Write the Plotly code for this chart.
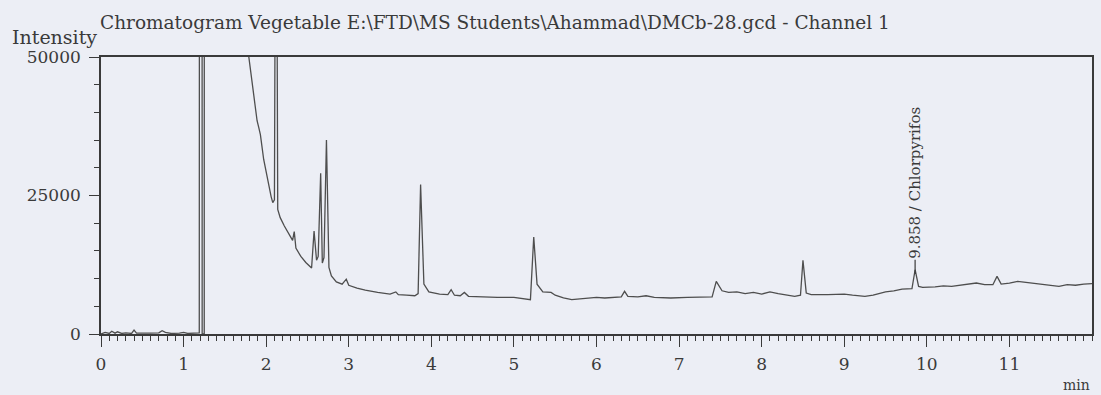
import plotly.graph_objects as go

# Retention time (min) and detector intensity
rt = [0.00, 0.05, 0.10, 0.13, 0.17, 0.20, 0.25, 0.30, 0.37, 0.40, 0.43, 0.50, 0.60, 0.70,
      0.74, 0.78, 0.85, 0.95, 1.00, 1.05, 1.10, 1.15, 1.19, 1.20, 1.22, 1.225,
      1.25, 1.255, 1.275, 1.28, 1.45, 1.60, 1.70, 1.79, 1.85, 1.89, 1.91, 1.93,
      1.97, 2.02, 2.06, 2.08, 2.10, 2.115, 2.125, 2.14, 2.17, 2.22, 2.28, 2.32, 2.34, 2.36,
      2.42, 2.48, 2.55, 2.58, 2.61, 2.63, 2.66, 2.68, 2.70, 2.73, 2.76, 2.79, 2.85, 2.92,
      2.97, 3.00, 3.10, 3.20, 3.35, 3.50, 3.57, 3.60, 3.70, 3.80, 3.84, 3.87, 3.91, 3.97,
      4.10, 4.20, 4.24, 4.28, 4.35, 4.40, 4.45, 4.60, 4.80, 5.00, 5.15, 5.20, 5.24, 5.28,
      5.35, 5.45, 5.50, 5.60, 5.70, 5.90, 6.00, 6.10, 6.30, 6.34, 6.38, 6.50, 6.60, 6.70,
      6.90, 7.10, 7.30, 7.40, 7.45, 7.52, 7.60, 7.70, 7.80, 7.90, 8.00, 8.10, 8.20, 8.30,
      8.40, 8.47, 8.50, 8.54, 8.60, 8.80, 9.00, 9.10, 9.25, 9.35, 9.50, 9.60, 9.70, 9.82,
      9.858, 9.90, 9.95, 10.10, 10.20, 10.30, 10.50, 10.60, 10.70, 10.80, 10.85, 10.90,
      11.00, 11.10, 11.20, 11.35, 11.50, 11.60, 11.70, 11.80, 11.90, 12.00]
intensity = [0, 300, 100, 500, 150, 400, 100, 200, 100, 700, 150, 100, 150, 200,
             600, 300, 100, 150, 300, 100, 150, 100, 200, 400000, 400000, 0,
             0, 400000, 400000, 400000, 300000, 90000, 66000, 50000, 42500, 38500, 37300, 36000,
             31500, 27500, 24800, 23700, 24200, 90000, 90000, 22500, 21000, 19500, 17800, 16900, 18500, 15500,
             14000, 12900, 11900, 18600, 13300, 14000, 29000, 12800, 13800, 35000, 12000, 10500, 9400, 9000,
             9900, 8800, 8300, 7900, 7500, 7200, 7600, 7100, 7000, 6900, 7300, 27000, 9000, 7600,
             7200, 7100, 8000, 7000, 6900, 7500, 6800, 6700, 6600, 6600, 6300, 6200, 17500, 9000,
             7600, 7500, 7000, 6500, 6200, 6400, 6600, 6500, 6700, 7700, 6800, 6700, 6900, 6600,
             6500, 6600, 6700, 6700, 9500, 7800, 7500, 7600, 7300, 7500, 7200, 7600, 7300, 7000,
             6800, 7000, 13300, 7400, 7100, 7100, 7200, 7000, 6800, 7000, 7600, 7800, 8100, 8200,
             11600, 8600, 8400, 8500, 8700, 8600, 9000, 9200, 8900, 8900, 10400, 9000,
             9200, 9500, 9300, 9000, 8800, 8600, 8900, 8800, 9000, 9100]

x_ticks = [0, 1, 2, 3, 4, 5, 6, 7, 8, 9, 10, 11]
y_ticks = [0, 25000, 50000]
y_tick_text = ["0", "25000", "50000"]

title_text = "Chromatogram Vegetable E:\\FTD\\MS Students\\Ahammad\\DMCb-28.gcd - Channel 1"
peak_label = "9.858 / Chlorpyrifos"
peak_rt = 9.858
peak_int = 11600

FONT = "DejaVu Serif"
INK = "#3a3a3a"
BG = "#eceef5"

fig = go.Figure()
fig.add_trace(go.Scatter(x=rt, y=intensity, mode="lines",
                         line=dict(color="#4e4e4e", width=1.3), showlegend=False,
                         hoverinfo="skip"))

fig.update_layout(
    width=1101, height=395,
    margin=dict(l=101, r=7, t=57, b=61),
    paper_bgcolor=BG, plot_bgcolor=BG,
    font=dict(family=FONT, color=INK, size=17),
    title=dict(text=title_text, x=100 / 1101, xanchor="left", xref="container",
               y=1 - 23 / 395, yanchor="middle", yref="container",
               font=dict(family=FONT, size=18.5, color=INK)),
)
fig.update_xaxes(range=[0, 12], tickvals=x_ticks, ticks="outside", ticklen=11,
                 tickwidth=1.3, tickcolor=INK, showline=True, linecolor=INK, linewidth=1.6,
                 mirror=True, showgrid=False, zeroline=False, ticklabelstandoff=3,
                 tickfont=dict(family=FONT, size=17, color=INK),
                 minor=dict(dtick=0.1, ticks="outside", ticklen=5, tickcolor=INK, tickwidth=1,
                            showgrid=False))
fig.update_yaxes(range=[0, 50000], tickvals=y_ticks, ticktext=y_tick_text, ticks="outside",
                 ticklen=10, tickwidth=1.3, tickcolor=INK, showline=True, linecolor=INK,
                 linewidth=1.6, mirror=True, showgrid=False, zeroline=False,
                 ticklabelstandoff=5,
                 tickfont=dict(family=FONT, size=17, color=INK),
                 minor=dict(dtick=5000, ticks="outside", ticklen=5, tickcolor=INK, tickwidth=1,
                            showgrid=False))

# short marker line above the identified peak, then its vertical label
fig.add_shape(type="line", xref="x", yref="y", x0=peak_rt, x1=peak_rt,
              ysizemode="pixel", yanchor=peak_int, y0=-4, y1=10,
              line=dict(color=INK, width=1.2))
fig.add_annotation(x=peak_rt, y=peak_int, text=peak_label, textangle=-90,
                   showarrow=False, yanchor="bottom", xanchor="center", yshift=9,
                   font=dict(family=FONT, size=15, color=INK))
fig.add_annotation(xref="paper", yref="paper", x=-91 / 993, y=(334 - 37) / 277,
                   xanchor="left", yanchor="middle", text="Intensity", showarrow=False,
                   font=dict(family=FONT, size=19, color=INK))
fig.add_annotation(xref="paper", yref="paper", x=1, y=(334 - 385) / 277,
                   xanchor="right", yanchor="middle", text="min", showarrow=False,
                   font=dict(family=FONT, size=14, color=INK))

fig.write_html("out.html")
